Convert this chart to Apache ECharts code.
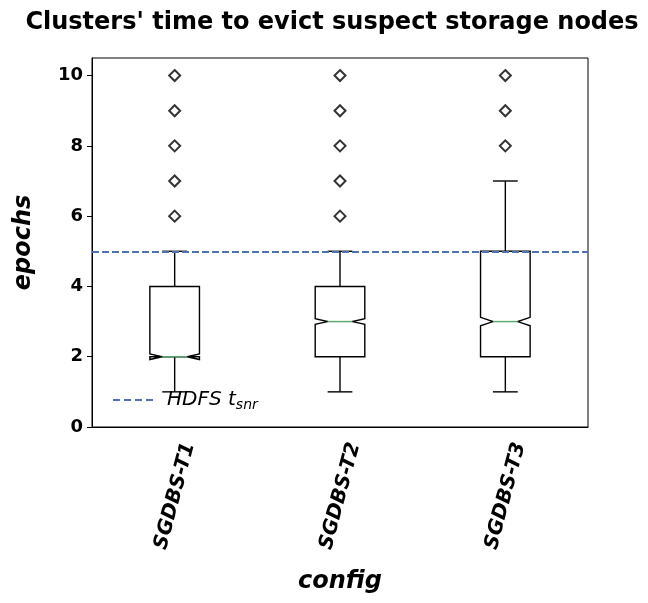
<!DOCTYPE html>
<html>
<head>
<meta charset="utf-8">
<script src="https://cdn.jsdelivr.net/npm/echarts@6/dist/echarts.min.js"></script>
<style>html,body{margin:0;padding:0;background:#fff;}#chart{width:648px;height:603px;}</style>
</head>
<body>
<div id="chart"></div>
<script>
const categories = ['SGDBS-T1', 'SGDBS-T2', 'SGDBS-T3'];
const whiskerLow = [1, 1, 1];
const q1 = [2, 2, 2];
const median = [2, 3, 3];
const q3 = [4, 4, 5];
const whiskerHigh = [5, 5, 7];
const notchLow = [1.92, 2.92, 2.88];
const notchHigh = [2.08, 3.08, 3.12];
const outliers = [[6, 7, 8, 9, 10], [6, 7, 8, 9, 10], [8, 9, 10]];
const hdfsThreshold = 5;
const yTicks = [0, 2, 4, 6, 8, 10];

const FONT = 'DejaVu Sans';
const boxData = categories.map((c, i) => [i, whiskerLow[i], q1[i], median[i], q3[i], whiskerHigh[i], notchLow[i], notchHigh[i]]);
const outlierData = [];
outliers.forEach((arr, i) => arr.forEach(v => outlierData.push([i, v])));

function renderBox(params, api) {
  const idx = api.value(0);
  const band = api.size([1, 0])[0];
  const w = band * 0.3;
  const cx = api.coord([idx, 0])[0];
  const L = cx - w / 2, R = cx + w / 2;
  const inset = w * 0.25;
  const y = v => api.coord([idx, v])[1];
  const wl = y(api.value(1)), bq1 = y(api.value(2)), med = y(api.value(3)), bq3 = y(api.value(4)), wh = y(api.value(5));
  const nl = y(api.value(6)), nh = y(api.value(7));
  const stroke = { stroke: '#000', lineWidth: 1.4, fill: null };
  const capW = w / 2;
  return {
    type: 'group',
    children: [
      { type: 'line', shape: { x1: cx, y1: bq1, x2: cx, y2: wl }, style: stroke },
      { type: 'line', shape: { x1: cx, y1: bq3, x2: cx, y2: wh }, style: stroke },
      { type: 'line', shape: { x1: cx - capW / 2, y1: wl, x2: cx + capW / 2, y2: wl }, style: stroke },
      { type: 'line', shape: { x1: cx - capW / 2, y1: wh, x2: cx + capW / 2, y2: wh }, style: stroke },
      { type: 'polygon', shape: { points: [
        [L, bq1], [L, nl], [L + inset, med], [L, nh], [L, bq3],
        [R, bq3], [R, nh], [R - inset, med], [R, nl], [R, bq1]
      ] }, style: { stroke: '#000', lineWidth: 1.4, fill: 'none' } },
      { type: 'line', shape: { x1: L + inset, y1: med, x2: R - inset, y2: med }, style: { stroke: '#55a868', lineWidth: 1.4 } }
    ]
  };
}

const DASH_ICON = 'path://M0,5 L7,5 L7,7 L0,7 Z M11,5 L18,5 L18,7 L11,7 Z M22,5 L29,5 L29,7 L22,7 Z M33,5 L40,5 L40,7 L33,7 Z';

const chart = echarts.init(document.getElementById('chart'), null, { renderer: 'canvas' });
chart.setOption({
  animation: false,
  backgroundColor: '#fff',
  title: {
    text: "Clusters' time to evict suspect storage nodes",
    left: 327, top: 6, textAlign: 'center',
    textStyle: { fontFamily: FONT, fontWeight: 'bold', fontSize: 24, color: '#000' }
  },
  grid: { left: 92, right: 60, top: 58, bottom: 176, show: true, borderColor: '#000', borderWidth: 1, backgroundColor: 'transparent' },
  legend: {
    left: 108, top: 385,
    itemWidth: 40, itemHeight: 14, itemGap: 14,
    itemStyle: { color: '#4c72b0' },
    data: [{ name: 'HDFS', icon: DASH_ICON }],
    formatter: () => '{a|HDFS t}{s|snr}',
    textStyle: {
      rich: {
        a: { fontFamily: FONT, fontStyle: 'italic', fontSize: 20, color: '#000', padding: [0, 0, 0, 9] },
        s: { fontFamily: FONT, fontStyle: 'italic', fontSize: 14, color: '#000', padding: [10, 0, 0, 0] }
      }
    }
  },
  xAxis: {
    type: 'category',
    data: categories,
    boundaryGap: true,
    name: 'config', nameLocation: 'middle', nameGap: 143,
    nameTextStyle: { fontFamily: FONT, fontWeight: 'bold', fontStyle: 'italic', fontSize: 24, color: '#000' },
    axisLine: { lineStyle: { color: '#000', width: 1 } },
    axisTick: { alignWithLabel: true, length: 5, lineStyle: { color: '#000' } },
    axisLabel: { rotate: 75, margin: 12, verticalAlign: 'top', lineHeight: 30, fontFamily: FONT, fontWeight: 'bold', fontStyle: 'italic', fontSize: 20, color: '#000' },
    splitLine: { show: false }
  },
  yAxis: {
    type: 'value', min: 0, max: 10.5,
    name: 'epochs', nameLocation: 'middle', nameGap: 56,
    nameTextStyle: { fontFamily: FONT, fontWeight: 'bold', fontStyle: 'italic', fontSize: 24, color: '#000' },
    axisLine: { show: true, lineStyle: { color: '#000', width: 1 } },
    axisTick: { show: true, length: 5, lineStyle: { color: '#000' }, customValues: yTicks },
    axisLabel: { margin: 9, fontFamily: FONT, fontWeight: 'bold', fontSize: 18, color: '#000', customValues: yTicks },
    splitLine: { show: false }
  },
  series: [
    {
      type: 'custom', name: 'box', renderItem: renderBox, data: boxData,
      encode: { x: 0, y: [1, 2, 3, 4, 5] }, z: 2
    },
    {
      type: 'scatter', name: 'outliers', data: outlierData,
      symbol: 'diamond', symbolSize: 11,
      itemStyle: { color: 'rgba(0,0,0,0)', borderColor: '#000', borderWidth: 2 }, z: 3
    },
    {
      type: 'line', name: 'HDFS', data: [], symbol: 'none',
      lineStyle: { color: '#4c72b0', type: 'dashed', width: 2 },
      itemStyle: { color: '#4c72b0' },
      markLine: {
        silent: true, symbol: 'none', label: { show: false },
        lineStyle: { color: '#4c72b0', type: [7, 3], width: 2 },
        data: [{ yAxis: hdfsThreshold }]
      }, z: 5
    }
  ]
});
</script>
</body>
</html>
